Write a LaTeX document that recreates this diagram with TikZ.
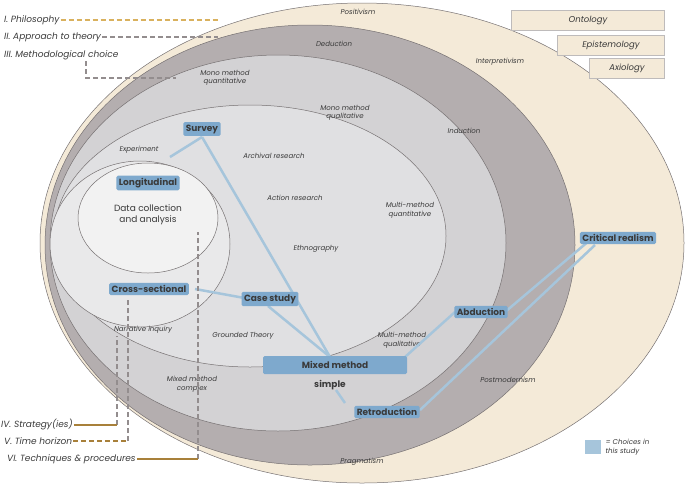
\documentclass[tikz,border=0pt]{standalone}
\usepackage{fontspec}
\setmainfont{Poppins}
\usepackage{tikz}
\definecolor{cream}{HTML}{F4EAD8}
\definecolor{ringdark}{HTML}{B4AEAF}
\definecolor{ringmid}{HTML}{D3D2D4}
\definecolor{ringlight}{HTML}{E0E0E2}
\definecolor{ringinner}{HTML}{E9E9EA}
\definecolor{choice}{HTML}{7EA9CD}
\definecolor{link}{HTML}{A6C5DB}
\definecolor{gold}{HTML}{D9B15E}
\definecolor{bronze}{HTML}{A8803A}
\definecolor{dashgray}{HTML}{938D8E}
\definecolor{txt}{HTML}{3A3A3A}
\begin{document}
\begin{tikzpicture}[x=1pt, y=-1pt,
    choicebox/.style ={fill=choice, rounded corners=1.5pt, inner sep=2.5pt,
        font=\fontsize{9}{10}\selectfont\bfseries, text=txt},
    layer/.style ={font=\fontsize{7}{8.5}\selectfont\itshape, text=txt, align=center},
    level/.style ={font=\fontsize{9}{10}\selectfont\itshape, text=txt, anchor=west, inner sep=1pt},
    ring/.style ={draw=dashgray!80!black, line width=0.5pt},
    tab/.style ={fill=cream, draw=dashgray!60, font=\fontsize{8.5}{10}\selectfont\itshape, text=txt},
    chain/.style ={link, line width=2.5pt},
    lead/.style ={dashgray, line width=2pt, dash pattern=on 5pt off 3pt}]
   \useasboundingbox (0,0) rectangle (685,483);

   % rings
   \draw[ring, fill=cream]     (362,243) ellipse (322 and 240);
   \draw[ring, fill=ringdark]  (310,245) ellipse (265 and 220);
   \draw[ring, fill=ringmid]   (278,243) ellipse (228 and 188);
   \draw[ring, fill=ringlight] (250,236) ellipse (196 and 131);
   \draw[ring, fill=ringinner] (140,244) ellipse (90 and 83);
   \draw[ring, fill=ringinner!60!white] (148,218) ellipse (70 and 55);

   % tabs
   \node[tab, minimum width=153, minimum height=20] (onto) at (588,20) {Ontology};
   \node[tab, minimum width=107, minimum height=20] (epis) at (611,45) {Epistemology};
   \node[tab, minimum width=75,  minimum height=20] (axio) at (627,68) {Axiology};

   % layer labels
   \node[layer] (posi) at (358,12)  {Positivism};
   \node[layer] (dedu) at (334,44)  {Deduction};
   \node[layer] (inte) at (500,62)  {Interpretivism};
   \node[layer] (monoqn) at (225,78) {Mono method\\quantitative};
   \node[layer] (monoql) at (345,113) {Mono method\\qualitative};
   \node[layer] (indu) at (464,131) {Induction};
   \node[layer] (expe) at (139,150) {Experiment};
   \node[layer] (arch) at (274,156) {Archival research};
   \node[layer] (acti) at (295,198) {Action research};
   \node[layer] (multqn) at (410,210) {Multi-method\\quantitative};
   \node[layer] (ethn) at (316,249) {Ethnography};
   \node[layer] (multql) at (402,340) {Multi-method\\qualitative};
   \node[layer] (narr) at (143,330) {Narrative inquiry};
   \node[layer] (grou) at (243,336) {Grounded Theory};
   \node[layer] (mixc) at (192,384) {Mixed method\\complex};
   \node[layer] (post) at (508,380) {Postmodernism};
   \node[layer] (prag) at (362,462) {Pragmatism};
   \node[font=\fontsize{9}{11}\selectfont, text=txt, align=center] (data) at (148,215) {Data collection\\and analysis};

   % links
   \coordinate (expt) at (170,157);
   \coordinate (simp) at (336,390);
   \draw[chain] (202,137) -- (expt);
   \draw[chain] (202,137) -- (330,357);
   \draw[chain] (195,289) -- (250,299);
   \draw[chain] (268,306) -- (330,357);
   \draw[chain] (405,357) -- (455,312);
   \draw[chain] (505,312) -- (590,240);
   \draw[chain] (420,410) -- (595,245);
   \draw[chain] (simp) -- (345,403);

   % choices
   \node[choicebox] (surv) at (202,129) {Survey};
   \node[choicebox] (long) at (148,183) {Longitudinal};
   \node[choicebox] (cros) at (149,289) {Cross-sectional};
   \node[choicebox] (case) at (270,299) {Case study};
   \node[choicebox, minimum width=144, minimum height=18] (mixs) at (335,365) {Mixed method};
   \node[font=\fontsize{9}{10}\selectfont\bfseries, text=txt] (simple) at (330,385) {simple};
   \node[choicebox] (retr) at (387,412) {Retroduction};
   \node[choicebox] (abdu) at (481,312) {Abduction};
   \node[choicebox] (crit) at (618,238) {Critical realism};

   % levels
   \node[level] (phil) at (3,20)  {I. Philosophy};
   \node[level] (appr) at (3,37)  {II. Approach to theory};
   \node[level] (meth) at (3,55)  {III. Methodological choice};
   \node[level] (stra) at (0,425) {IV. Strategy(ies)};
   \node[level] (time) at (3,441) {V. Time horizon};
   \node[level] (tech) at (6,459) {VI. Techniques \& procedures};
   \coordinate (meth1) at (86,61);
   \coordinate (meth2) at (86,78);
   \coordinate (meth3) at (176,78);
   \coordinate (stra1) at (117,425);
   \coordinate (stra2) at (117,336);
   \coordinate (time1) at (128,441);
   \coordinate (time2) at (128,300);
   \coordinate (tech1) at (198,459);
   \coordinate (tech2) at (198,232);
   \draw[lead, gold] (phil.east) -- (218,20);
   \draw[lead] (appr.east) -- (218,37);
   \draw[lead] (meth1) -- (meth2) -- (meth3);
   \draw[lead] (stra1) -- (stra2);
   \draw[lead] (time1) -- (time2);
   \draw[lead] (tech1) -- (tech2);
   \draw[bronze, line width=2pt] (stra.east) -- (stra1);
   \draw[bronze, line width=2pt, dash pattern=on 5pt off 3pt] (time.east) -- (time1);
   \draw[bronze, line width=2pt] (tech.east) -- (tech1);

   % legend
   \node[fill=link, minimum width=16, minimum height=14] (key) at (593,447) {};
   \node[font=\fontsize{7}{8.5}\selectfont\itshape, text=txt, anchor=west, align=left] (keytxt) at (602,447) {= Choices in\\this study};
 \end{tikzpicture}
\end{document}
